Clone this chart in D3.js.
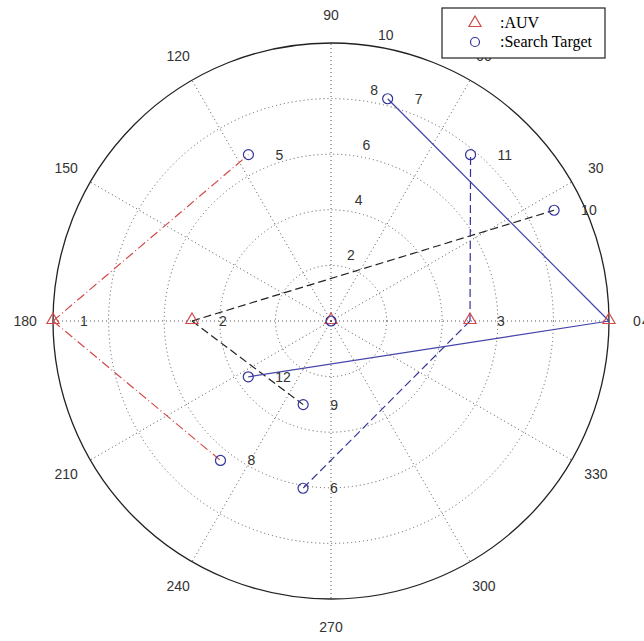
<!DOCTYPE html>
<html>
<head>
<meta charset="utf-8">
<script src="https://cdn.jsdelivr.net/npm/d3@7"></script>
<style>
  body { margin: 0; background: #fff; }
</style>
</head>
<body>
<script>
var width = 644;
var height = 641;
var cx = 331, cy = 321;

var ringValues = [2, 4, 6, 8, 10];
var spokeAngles = [0, 30, 60, 90, 120, 150, 180, 210, 240, 270, 300, 330];

// AUV positions (angle in degrees, radius)
var auvLabels = ['1', '2', '3', '4', ''];
var auvAngles = [180, 180, 0, 0, 0];
var auvRadii = [10, 5, 5, 10, 0];

// search targets
var targetLabels = ['5', '7', '11', '10', '12', '9', '8', '6', ''];
var targetAngles = [116.4, 75.7, 50, 26.4, 214, 251.6, 231.6, 260.5, 0];
var targetRadii = [6.68, 8.25, 7.81, 8.96, 3.59, 3.17, 6.4, 6.1, 0];

// assignments: AUV index -> target index, line style
var linkFrom = [0, 0, 1, 1, 2, 2, 3, 3];
var linkTo = [0, 6, 3, 5, 2, 7, 1, 4];
var linkStyle = ['reddash', 'reddash', 'blackdash', 'blackdash', 'bluedash', 'bluedash', 'blue', 'blue'];

var r = d3.scaleLinear().domain([0, 10]).range([0, 278]);

var styles = {
    reddash: { color: '#d24a4a', dash: '9,3,1,3' },
    blackdash: { color: '#222', dash: '8,4' },
    bluedash: { color: '#33339a', dash: '8,4' },
    blue: { color: '#4444aa', dash: null }
};

var sans = '"Liberation Sans", Arial, sans-serif';
var serif = '"Liberation Serif", "Times New Roman", serif';

function px(angle, rad) {
    var a = angle * Math.PI / 180;
    return [cx + r(rad) * Math.cos(a), cy - r(rad) * Math.sin(a)];
}

var svg = d3.select('body').append('svg')
    .attr('width', width)
    .attr('height', height)
    .style('font-family', sans);

// grid circles
svg.selectAll('circle.ring')
    .data(ringValues.slice(0, -1))
    .enter().append('circle')
    .attr('class', 'ring')
    .attr('cx', cx).attr('cy', cy)
    .attr('r', function(d) { return r(d); })
    .attr('fill', 'none')
    .attr('stroke', '#555')
    .attr('stroke-width', 1)
    .attr('stroke-dasharray', '1,3');

// spokes
svg.selectAll('line.spoke')
    .data(spokeAngles)
    .enter().append('line')
    .attr('x1', cx).attr('y1', cy)
    .attr('x2', function(d) { return px(d, 10)[0]; })
    .attr('y2', function(d) { return px(d, 10)[1]; })
    .attr('stroke', '#555')
    .attr('stroke-width', 1)
    .attr('stroke-dasharray', '1,3');

// outer circle
svg.append('circle')
    .attr('cx', cx).attr('cy', cy)
    .attr('r', r(10))
    .attr('fill', 'none')
    .attr('stroke', '#222')
    .attr('stroke-width', 1.3);

// ring labels at 82 degrees
svg.selectAll('text.ringlabel')
    .data(ringValues)
    .enter().append('text')
    .attr('x', function(d) { return px(82, d + 0.1)[0] + 8; })
    .attr('y', function(d) { return px(82, d + 0.1)[1] - 3; })
    .attr('font-size', 14)
    .attr('fill', '#333')
    .text(function(d) { return d; });

// angle labels
svg.selectAll('text.anglelabel')
    .data(spokeAngles)
    .enter().append('text')
    .attr('x', function(d) { return px(d, 11)[0]; })
    .attr('y', function(d) { return px(d, 11)[1]; })
    .attr('text-anchor', 'middle')
    .attr('dominant-baseline', 'central')
    .attr('font-size', 14)
    .attr('fill', '#333')
    .text(function(d) { return d; });

// assignment lines
svg.selectAll('line.link')
    .data(linkFrom)
    .enter().append('line')
    .attr('x1', function(d) { return px(auvAngles[d], auvRadii[d])[0]; })
    .attr('y1', function(d) { return px(auvAngles[d], auvRadii[d])[1]; })
    .attr('x2', function(d, i) { return px(targetAngles[linkTo[i]], targetRadii[linkTo[i]])[0]; })
    .attr('y2', function(d, i) { return px(targetAngles[linkTo[i]], targetRadii[linkTo[i]])[1]; })
    .attr('stroke', function(d, i) { return styles[linkStyle[i]].color; })
    .attr('stroke-width', 1.2)
    .attr('stroke-dasharray', function(d, i) { return styles[linkStyle[i]].dash; });

var tri = d3.symbol().type(d3.symbolTriangle).size(64);

// AUV markers
svg.selectAll('path.auv')
    .data(auvAngles)
    .enter().append('path')
    .attr('d', tri)
    .attr('transform', function(d, i) {
        var p = px(d, auvRadii[i]);
        return 'translate(' + p[0] + ',' + (p[1] - 1) + ')';
    })
    .attr('fill', 'none')
    .attr('stroke', '#d24a4a')
    .attr('stroke-width', 1.2);

// target markers
svg.selectAll('circle.target')
    .data(targetAngles)
    .enter().append('circle')
    .attr('cx', function(d, i) { return px(d, targetRadii[i])[0]; })
    .attr('cy', function(d, i) { return px(d, targetRadii[i])[1]; })
    .attr('r', 5)
    .attr('fill', 'none')
    .attr('stroke', '#33339a')
    .attr('stroke-width', 1.2);

// point labels (AUV 4 label sits at the right edge, mostly clipped)
svg.selectAll('text.auvlabel')
    .data(auvLabels)
    .enter().append('text')
    .attr('x', function(d, i) { return px(auvAngles[i], auvRadii[i])[0] + (i === 3 ? 33 : 27); })
    .attr('y', function(d, i) { return px(auvAngles[i], auvRadii[i])[1]; })
    .attr('dominant-baseline', 'central')
    .attr('font-size', 14)
    .attr('fill', '#333')
    .text(function(d) { return d; });

svg.selectAll('text.targetlabel')
    .data(targetLabels)
    .enter().append('text')
    .attr('x', function(d, i) { return px(targetAngles[i], targetRadii[i])[0] + 27; })
    .attr('y', function(d, i) { return px(targetAngles[i], targetRadii[i])[1]; })
    .attr('dominant-baseline', 'central')
    .attr('font-size', 14)
    .attr('fill', '#333')
    .text(function(d) { return d; });

// legend
var legend = svg.append('g');
legend.append('rect')
    .attr('x', 442).attr('y', 8)
    .attr('width', 163).attr('height', 50)
    .attr('fill', '#fff')
    .attr('stroke', '#222')
    .attr('stroke-width', 1.2);
legend.append('path')
    .attr('d', tri)
    .attr('transform', 'translate(475,23)')
    .attr('fill', 'none')
    .attr('stroke', '#d24a4a')
    .attr('stroke-width', 1.2);
legend.append('circle')
    .attr('cx', 475).attr('cy', 42).attr('r', 4.5)
    .attr('fill', 'none')
    .attr('stroke', '#33339a')
    .attr('stroke-width', 1.2);
legend.append('text')
    .attr('x', 500).attr('y', 28)
    .style('font-family', serif)
    .attr('font-size', 16)
    .text(':AUV');
legend.append('text')
    .attr('x', 500).attr('y', 47)
    .style('font-family', serif)
    .attr('font-size', 16)
    .text(':Search Target');
</script>
</body>
</html>
